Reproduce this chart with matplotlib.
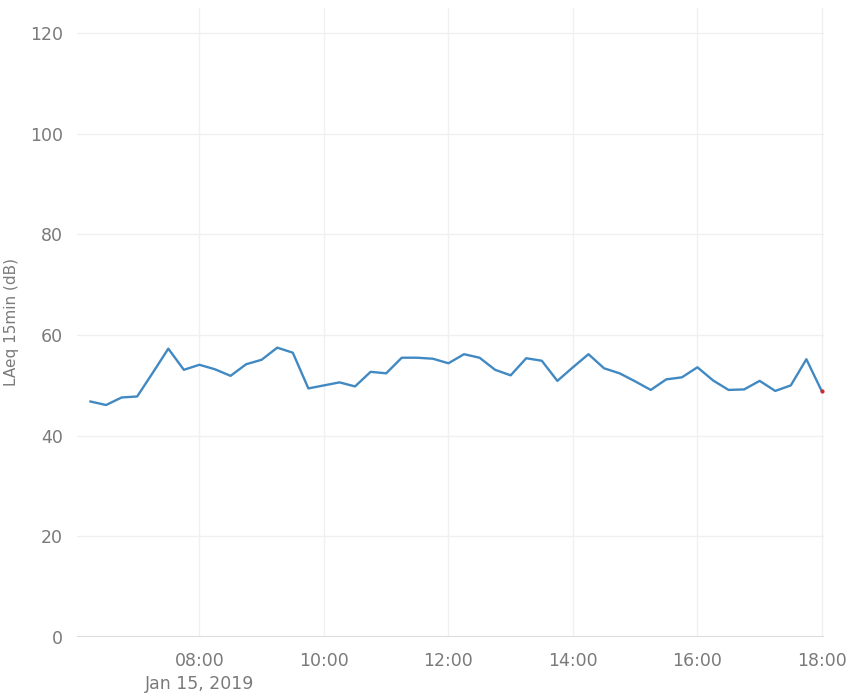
import pandas as pd
import matplotlib
matplotlib.use('Agg')
import matplotlib.pyplot as plt

# 15 minute LAeq readings, Jan 15 2019, 06:15 -> 18:00
times = pd.date_range('2019-01-15 06:15', '2019-01-15 18:00', freq='15min')
laeq = [46.8, 46.1, 47.6, 47.8, 52.5, 57.3, 53.1, 54.1,
        53.2, 51.9, 54.2, 55.1, 57.5, 56.5, 49.4, 50.0,
        50.6, 49.8, 52.7, 52.4, 55.5, 55.5, 55.3, 54.4,
        56.2, 55.5, 53.1, 52.0, 55.4, 54.9, 50.9, 53.6,
        56.2, 53.4, 52.4, 50.8, 49.1, 51.2, 51.6, 53.6,
        51.0, 49.1, 49.2, 50.9, 48.9, 50.0, 55.2, 48.8]

tick_times = pd.date_range('2019-01-15 08:00', '2019-01-15 18:00', freq='2h')
tick_labels = ['08:00\nJan 15, 2019', '10:00', '12:00', '14:00', '16:00', '18:00']
y_ticks = [0, 20, 40, 60, 80, 100, 120]

plt.rcParams['font.family'] = ['DejaVu Sans']
fig = plt.figure(figsize=(8.5, 6.95), dpi=100)
ax = fig.add_axes([77/850, 1 - 637/695, (824-77)/850, (637-8)/695])

ax.plot(times, laeq, color='#4189c2', linewidth=1.7, zorder=3)
# last reading highlighted
ax.plot(times[-1:], laeq[-1:], 'o', color='#d62728', markersize=2, zorder=4)

ax.set_xlim(pd.Timestamp('2019-01-15 06:02'), pd.Timestamp('2019-01-15 18:02'))
ax.set_ylim(0, 125)
ax.set_xticks(tick_times)
ax.set_xticklabels(tick_labels, linespacing=1.35)
ax.set_yticks(y_ticks)

ax.grid(True, color='#f0f0f0', linewidth=1)
ax.axhline(0, color='#dcdcdc', linewidth=1.5, zorder=2)
for s in ax.spines.values():
    s.set_visible(False)
ax.tick_params(axis='both', length=0, labelsize=12.5, colors='#7a7a7a')
ax.tick_params(axis='x', pad=11)
ax.tick_params(axis='y', pad=10)

ax.set_ylabel('LAeq 15min (dB)', fontsize=11, color='#7a7a7a')
ax.yaxis.set_label_coords(-0.077, 0.5)

fig.savefig('out.png', dpi=100)
